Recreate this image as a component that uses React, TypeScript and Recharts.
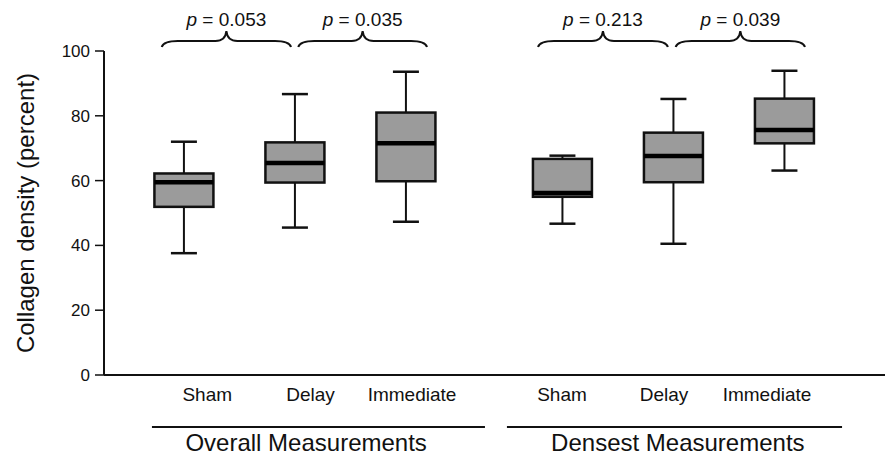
import React from 'react';
import { ComposedChart, Bar, XAxis, YAxis, ReferenceArea } from 'recharts';

const categories = ['Sham', 'Delay', 'Immediate', 'Sham', 'Delay', 'Immediate'];
const boxPositions = [0.72, 1.72, 2.72, 4.13, 5.13, 6.13];
const labelPositions = [0.93, 1.86, 2.775, 4.126, 5.045, 5.973];
const whiskerLow = [37.6, 45.5, 47.3, 46.7, 40.5, 63.1];
const q1 = [51.9, 59.4, 59.8, 55.0, 59.5, 71.5];
const median = [59.5, 65.4, 71.5, 56.2, 67.6, 75.6];
const q3 = [62.2, 71.8, 81.0, 66.7, 74.8, 85.3];
const whiskerHigh = [72.0, 86.7, 93.6, 67.7, 85.2, 93.9];

const groupLabels = ['Overall Measurements', 'Densest Measurements'];
const groupStarts = [0.432, 3.63];
const groupEnds = [3.432, 6.649];
const groupLabelFraction = [0.463, 0.51];

const braceStarts = [0.52, 1.75, 3.91, 5.15];
const braceEnds = [1.685, 2.91, 5.08, 6.315];
const pValues = ['0.053', '0.035', '0.213', '0.039'];

const yTicks = [0, 20, 40, 60, 80, 100];
const xDomainMax = 7.108;

const FONT = '"Liberation Sans", Arial, Helvetica, sans-serif';
const INK = '#111111';

const data = categories.map((c, i) => ({
  name: c,
  pos: boxPositions[i],
  low: whiskerLow[i],
  q1: q1[i],
  med: median[i],
  q3: q3[i],
  high: whiskerHigh[i],
}));

const BOX_W = 59;
const CAP_W = 26;

const BoxShape = (props: any) => {
  const { x, y, width, height, payload } = props;
  if (payload == null) return null;
  const top = Math.min(y, y + height);
  const h = Math.abs(height);
  const hi = payload.high;
  const lo = payload.low;
  const py = (v: number) => top + ((hi - v) / (hi - lo)) * h;
  const cx = x + width / 2;
  const yHi = py(hi);
  const yLo = py(lo);
  const yQ3 = py(payload.q3);
  const yQ1 = py(payload.q1);
  const yMed = py(payload.med);
  return (
    <g>
      <line x1={cx} x2={cx} y1={yHi} y2={yQ3} stroke={INK} strokeWidth={2} />
      <line x1={cx} x2={cx} y1={yQ1} y2={yLo} stroke={INK} strokeWidth={2} />
      <line x1={cx - CAP_W / 2} x2={cx + CAP_W / 2} y1={yHi} y2={yHi} stroke={INK} strokeWidth={2.5} />
      <line x1={cx - CAP_W / 2} x2={cx + CAP_W / 2} y1={yLo} y2={yLo} stroke={INK} strokeWidth={2.5} />
      <rect x={cx - BOX_W / 2} y={yQ3} width={BOX_W} height={yQ1 - yQ3} fill="#9b9b9b" stroke={INK} strokeWidth={2.5} />
      <line x1={cx - BOX_W / 2} x2={cx + BOX_W / 2} y1={yMed} y2={yMed} stroke="#000" strokeWidth={4.5} />
    </g>
  );
};

const makeBrace = (pv: string) => (props: any) => {
  const { x, y, width, height } = props;
  const top = Math.min(y, y + height);
  const x1 = x;
  const x2 = x + width;
  const m = (x1 + x2) / 2;
  const e = top - 4;
  const f = top - 10;
  const p = top - 20;
  const d = `M ${x1} ${e} Q ${x1 + 2} ${f} ${x1 + 16} ${f} L ${m - 11} ${f} Q ${m - 1} ${f} ${m} ${p} Q ${m + 1} ${f} ${m + 11} ${f} L ${x2 - 16} ${f} Q ${x2 - 2} ${f} ${x2} ${e}`;
  return (
    <g>
      <path d={d} fill="none" stroke={INK} strokeWidth={2} />
      <text x={m} y={top - 25} textAnchor="middle" fontSize={19} fontFamily={FONT} fill={INK}>
        <tspan fontStyle="italic">p</tspan>
        {` = ${pv}`}
      </text>
    </g>
  );
};

const makeGroup = (label: string, frac: number) => (props: any) => {
  const { x, y, width, height } = props;
  const bottom = Math.max(y, y + height);
  const m = x + width * frac;
  return (
    <g>
      <line x1={x} x2={x + width} y1={bottom + 52} y2={bottom + 52} stroke={INK} strokeWidth={2} />
      <text x={m} y={bottom + 76} textAnchor="middle" fontSize={24} fontFamily={FONT} fill={INK}>
        {label}
      </text>
    </g>
  );
};

const CategoryTick = (props: any) => {
  const { x, y, index } = props;
  return (
    <text x={x} y={y + 26} textAnchor="middle" fontSize={19} fontFamily={FONT} fill={INK}>
      {categories[index]}
    </text>
  );
};

const YLabel = (props: any) => {
  const vb = props.viewBox || {};
  const cx = (vb.x || 0) + 26;
  const cy = (vb.y || 0) + (vb.height || 0) / 2;
  return (
    <text
      x={cx}
      y={cy}
      transform={`rotate(-90 ${cx} ${cy})`}
      textAnchor="middle"
      fontSize={24}
      fontFamily={FONT}
      fill={INK}
    >
      Collagen density (percent)
    </text>
  );
};

export default function App() {
  return (
    <div style={{ width: 885, height: 448, background: '#fff' }}>
      <ComposedChart width={885} height={448} data={data} margin={{ top: 43, right: 0, bottom: 45, left: 0 }}>
        <XAxis
          dataKey="pos"
          type="number"
          domain={[0, xDomainMax]}
          ticks={labelPositions}
          interval={0}
          height={36}
          tickLine={false}
          tickSize={0}
          tickMargin={0}
          axisLine={{ stroke: INK, strokeWidth: 2 }}
          tick={<CategoryTick />}
        />
        <YAxis
          type="number"
          domain={[0, 100]}
          ticks={yTicks}
          width={96}
          tickSize={9}
          tickMargin={5}
          axisLine={{ stroke: INK, strokeWidth: 2 }}
          tickLine={{ stroke: INK, strokeWidth: 1.5 }}
          tick={{ fill: INK, fontSize: 17, fontFamily: FONT }}
          label={{ content: <YLabel /> }}
        />
        <Bar
          dataKey={(d: any) => [d.low, d.high]}
          barSize={BOX_W}
          shape={BoxShape}
          isAnimationActive={false}
        />
        {pValues.map((pv, i) => (
          <ReferenceArea
            key={`b${i}`}
            x1={braceStarts[i]}
            x2={braceEnds[i]}
            y1={95}
            y2={100}
            shape={makeBrace(pv)}
          />
        ))}
        {groupLabels.map((g, i) => (
          <ReferenceArea
            key={`g${i}`}
            x1={groupStarts[i]}
            x2={groupEnds[i]}
            y1={0}
            y2={5}
            ifOverflow="visible"
            shape={makeGroup(g, groupLabelFraction[i])}
          />
        ))}
      </ComposedChart>
    </div>
  );
}
